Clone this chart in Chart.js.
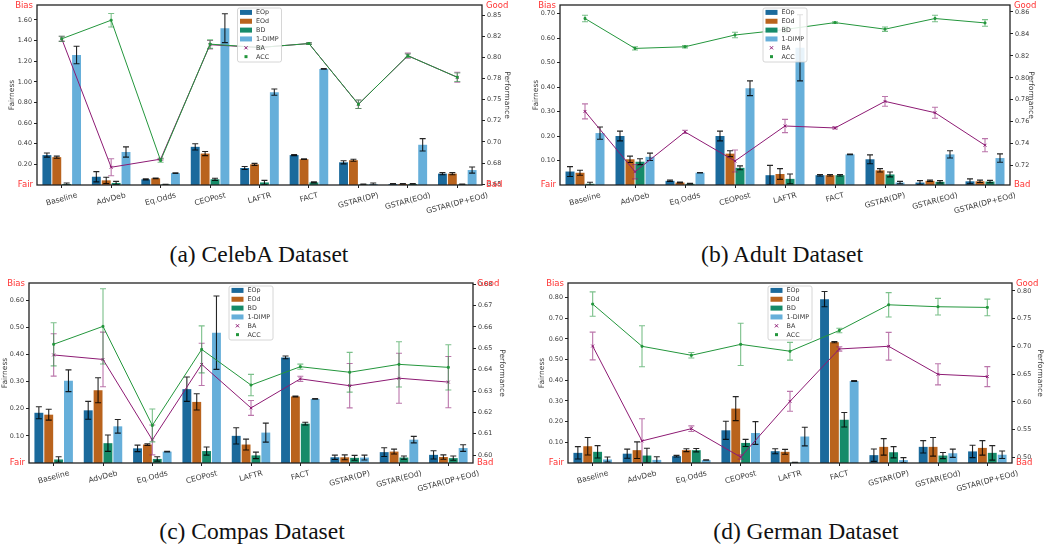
<!DOCTYPE html>
<html>
<head>
<meta charset="utf-8">
<script src="https://cdn.jsdelivr.net/npm/chart.js@4.4.1/dist/chart.umd.min.js"></script>
<style>
body { margin: 0; background: #fff; width: 1044px; height: 548px; position: relative; overflow: hidden; }
.panel { position: absolute; }
.panel canvas { display: block; }
.cap { position: absolute; font-family: "Liberation Serif", "DejaVu Serif", serif; font-size: 23.5px; line-height: 24px; color: #111; transform: translateX(-50%); white-space: nowrap; }
</style>
</head>
<body>
<div class="panel" style="left:0;top:0"><canvas id="celeba" width="520" height="240"></canvas></div>
<div class="panel" style="left:520px;top:0"><canvas id="adult" width="524" height="240"></canvas></div>
<div class="panel" style="left:0;top:278px"><canvas id="compas" width="520" height="240"></canvas></div>
<div class="panel" style="left:520px;top:278px"><canvas id="german" width="524" height="240"></canvas></div>
<div class="cap" style="left:259px;top:242px">(a) CelebA Dataset</div>
<div class="cap" style="left:782px;top:242px">(b) Adult Dataset</div>
<div class="cap" style="left:252px;top:519px">(c) Compas Dataset</div>
<div class="cap" style="left:806px;top:519px">(d) German Dataset</div>
<script>
// --- DADOS ---
const methods = ['Baseline', 'AdvDeb', 'Eq.Odds', 'CEOPost', 'LAFTR', 'FACT', 'GSTAR(DP)', 'GSTAR(EOd)', 'GSTAR(DP+EOd)'];
const legendLabels = ['EOp', 'EOd', 'BD', '1-DIMP', 'BA', 'ACC'];

// CelebA
const celebaEOp = [0.29, 0.08, 0.055, 0.37, 0.165, 0.29, 0.22, 0.01, 0.11];
const celebaEOpErr = [0.02, 0.05, 0.005, 0.03, 0.015, 0.005, 0.015, 0.003, 0.01];
const celebaEOd = [0.27, 0.045, 0.065, 0.305, 0.20, 0.25, 0.24, 0.01, 0.11];
const celebaEOdErr = [0.01, 0.03, 0.003, 0.02, 0.01, 0.003, 0.01, 0.003, 0.01];
const celebaBD = [0.01, 0.02, 0.005, 0.055, 0.025, 0.025, 0.005, 0.01, 0.005];
const celebaBDErr = [0.01, 0.015, 0.002, 0.01, 0.02, 0.005, 0.005, 0.003, 0.003];
const celebaDIMP = [1.26, 0.32, 0.115, 1.52, 0.90, 1.125, 0.01, 0.39, 0.145];
const celebaDIMPErr = [0.085, 0.05, 0.003, 0.14, 0.03, 0.003, 0.01, 0.06, 0.03];
const celebaBA = [0.822, 0.670, 0.6796, 0.815, 0.8117, 0.8164, 0.7445, 0.802, 0.7765];
const celebaBAErr = [0.003, 0.01, 0.001, 0.005, 0.002, 0.001, 0.005, 0.003, 0.006];
const celebaACC = [0.822, 0.844, 0.678, 0.8157, 0.8117, 0.8164, 0.7445, 0.802, 0.7765];
const celebaACCErr = [0.003, 0.008, 0.002, 0.005, 0.002, 0.001, 0.005, 0.002, 0.005];
const celebaLeftTicks = [0.2, 0.4, 0.6, 0.8, 1.0, 1.2, 1.4, 1.6];
const celebaRightTicks = [0.65, 0.675, 0.7, 0.725, 0.75, 0.775, 0.8, 0.825, 0.85];

// Adult
const adultEOp = [0.055, 0.20, 0.017, 0.20, 0.04, 0.04, 0.105, 0.01, 0.015];
const adultEOpErr = [0.02, 0.02, 0.003, 0.02, 0.04, 0.003, 0.018, 0.008, 0.01];
const adultEOd = [0.05, 0.105, 0.01, 0.128, 0.045, 0.04, 0.06, 0.017, 0.015];
const adultEOdErr = [0.01, 0.013, 0.002, 0.012, 0.022, 0.003, 0.007, 0.003, 0.005];
const adultBD = [0.005, 0.095, 0.005, 0.07, 0.025, 0.04, 0.043, 0.013, 0.014];
const adultBDErr = [0.006, 0.012, 0.002, 0.008, 0.02, 0.003, 0.01, 0.005, 0.005];
const adultDIMP = [0.212, 0.115, 0.05, 0.395, 0.56, 0.125, 0.01, 0.125, 0.11];
const adultDIMPErr = [0.025, 0.015, 0.001, 0.03, 0.135, 0.001, 0.005, 0.015, 0.017];
const adultBA = [0.7695, 0.7146, 0.7508, 0.7243, 0.7562, 0.7544, 0.7786, 0.7683, 0.7387];
const adultBAErr = [0.0068, 0.0065, 0.0015, 0.01, 0.006, 0.001, 0.0045, 0.005, 0.006];
const adultACC = [0.854, 0.8268, 0.8283, 0.839, 0.844, 0.8503, 0.8443, 0.854, 0.850];
const adultACCErr = [0.003, 0.0015, 0.001, 0.0025, 0.003, 0.0008, 0.002, 0.003, 0.003];
const adultLeftTicks = [0.1, 0.2, 0.3, 0.4, 0.5, 0.6, 0.7];
const adultRightTicks = [0.72, 0.74, 0.76, 0.78, 0.80, 0.82, 0.84, 0.86];

// Compas
const compasEOp = [0.185, 0.194, 0.054, 0.272, 0.10, 0.389, 0.021, 0.04, 0.03];
const compasEOpErr = [0.022, 0.033, 0.012, 0.045, 0.03, 0.005, 0.008, 0.016, 0.015];
const compasEOd = [0.178, 0.268, 0.068, 0.225, 0.068, 0.245, 0.021, 0.042, 0.022];
const compasEOdErr = [0.02, 0.046, 0.003, 0.03, 0.02, 0.002, 0.009, 0.009, 0.008];
const compasBD = [0.013, 0.073, 0.015, 0.044, 0.028, 0.145, 0.019, 0.02, 0.018];
const compasBDErr = [0.01, 0.03, 0.008, 0.015, 0.012, 0.005, 0.009, 0.006, 0.008];
const compasDIMP = [0.303, 0.135, 0.042, 0.48, 0.112, 0.236, 0.02, 0.086, 0.055];
const compasDIMPErr = [0.04, 0.025, 0.001, 0.135, 0.035, 0.001, 0.009, 0.012, 0.012];
const compasBA = [0.6469, 0.6448, 0.6071, 0.6425, 0.6221, 0.6357, 0.6325, 0.636, 0.6342];
const compasBAErr = [0.0099, 0.0128, 0.007, 0.0099, 0.0035, 0.0012, 0.0104, 0.0117, 0.012];
const compasACC = [0.6519, 0.6603, 0.6139, 0.6495, 0.6328, 0.6414, 0.6388, 0.6425, 0.6411];
const compasACCErr = [0.0101, 0.0176, 0.0077, 0.011, 0.005, 0.0012, 0.0093, 0.0106, 0.0106];
const compasLeftTicks = [0.1, 0.2, 0.3, 0.4, 0.5, 0.6];
const compasRightTicks = [0.60, 0.61, 0.62, 0.63, 0.64, 0.65, 0.66, 0.67, 0.68];

// German
const germanEOp = [0.049, 0.045, 0.033, 0.158, 0.057, 0.792, 0.038, 0.078, 0.056];
const germanEOpErr = [0.03, 0.022, 0.004, 0.044, 0.012, 0.037, 0.03, 0.03, 0.03];
const germanEOd = [0.081, 0.062, 0.062, 0.263, 0.054, 0.584, 0.078, 0.078, 0.073];
const germanEOdErr = [0.042, 0.04, 0.007, 0.058, 0.012, 0.003, 0.04, 0.045, 0.035];
const germanBD = [0.054, 0.036, 0.062, 0.097, 0.002, 0.209, 0.052, 0.036, 0.049];
const germanBDErr = [0.03, 0.035, 0.008, 0.017, 0.001, 0.035, 0.027, 0.015, 0.035];
const germanDIMP = [0.017, 0.015, 0.014, 0.145, 0.128, 0.396, 0.014, 0.047, 0.04];
const germanDIMPErr = [0.012, 0.015, 0.001, 0.055, 0.045, 0.002, 0.012, 0.02, 0.018];
const germanBA = [0.7007, 0.5296, 0.5517, 0.5005, 0.601, 0.6954, 0.7002, 0.6497, 0.6455];
const germanBAErr = [0.025, 0.04, 0.005, 0.004, 0.018, 0.004, 0.025, 0.019, 0.018];
const germanACC = [0.7763, 0.7002, 0.684, 0.7037, 0.6913, 0.7287, 0.775, 0.7715, 0.7703];
const germanACCErr = [0.022, 0.037, 0.005, 0.038, 0.016, 0.004, 0.022, 0.015, 0.015];
const germanLeftTicks = [0.1, 0.2, 0.3, 0.4, 0.5, 0.6, 0.7, 0.8];
const germanRightTicks = [0.50, 0.55, 0.60, 0.65, 0.70, 0.75, 0.80];

// --- ESTILO ---
const FONT = 'DejaVu Sans';
const barColors = ['#1b6a9c', '#b9631d', '#168b69', '#66afda'];
const baColor = '#8d1a73';
const accColor = '#23963c';
const axisColor = '#222';
const tickTextColor = '#3a3a3a';
const redColor = '#ff3333';

// barras de erro, desenhadas logo depois de cada dataset
const errorBarsPlugin = {
    id: 'errorBars',
    afterDatasetDraw(chart, args) {
        const ds = chart.data.datasets[args.index];
        if (!ds.err) return;
        const scale = chart.scales[ds.yAxisID];
        const ctx = chart.ctx;
        const ca = chart.chartArea;
        ctx.save();
        ctx.beginPath();
        ctx.rect(ca.left, ca.top, ca.right - ca.left, ca.bottom - ca.top);
        ctx.clip();
        ctx.strokeStyle = ds.errColor;
        ctx.lineWidth = 1.1;
        const cap = 3;
        args.meta.data.forEach((el, i) => {
            const v = ds.data[i], e = ds.err[i];
            const x = el.x;
            const yTop = scale.getPixelForValue(v + e);
            const yBot = scale.getPixelForValue(v - e);
            ctx.beginPath();
            ctx.moveTo(x, yTop); ctx.lineTo(x, yBot);
            ctx.moveTo(x - cap, yTop); ctx.lineTo(x + cap, yTop);
            ctx.moveTo(x - cap, yBot); ctx.lineTo(x + cap, yBot);
            ctx.stroke();
        });
        ctx.restore();
    }
};

// moldura, rótulos vermelhos, rótulos do eixo x e legenda
const decorPlugin = {
    id: 'decor',
    afterDraw(chart) {
        const ctx = chart.ctx;
        const ca = chart.chartArea;
        ctx.save();
        ctx.strokeStyle = axisColor;
        ctx.lineWidth = 1.3;
        ctx.strokeRect(ca.left, ca.top, ca.right - ca.left, ca.bottom - ca.top);

        // Bias / Fair / Good / Bad
        ctx.fillStyle = redColor;
        ctx.font = `8.5px "${FONT}"`;
        ctx.textBaseline = 'middle';
        ctx.textAlign = 'right';
        ctx.fillText('Bias', ca.left - 4, ca.top + 1);
        ctx.fillText('Fair', ca.left - 4, ca.bottom);
        ctx.textAlign = 'left';
        ctx.fillText('Good', ca.right + 4, ca.top + 1);
        ctx.fillText('Bad', ca.right + 4, ca.bottom);

        // rótulos do eixo x, rodados 15 graus e centrados no tick
        const xs = chart.scales.x;
        const ang = 15 * Math.PI / 180;
        ctx.font = `7.6px "${FONT}"`;
        ctx.fillStyle = tickTextColor;
        ctx.textAlign = 'center';
        ctx.textBaseline = 'middle';
        chart.data.labels.forEach((lab, i) => {
            const x = xs.getPixelForTick(i);
            const w = ctx.measureText(lab).width;
            const h = 7.6 * 1.15;
            const half = (w * Math.sin(ang) + h * Math.cos(ang)) / 2;
            ctx.save();
            ctx.translate(x, ca.bottom + 6 + half);
            ctx.rotate(-ang);
            ctx.fillText(lab, 0, 0);
            ctx.restore();
        });

        // legenda
        const lw = 44, lh = 54;
        const lx = (ca.left + ca.right) / 2 - lw / 2;
        const ly = ca.top + 3;
        ctx.fillStyle = 'rgba(255,255,255,0.85)';
        ctx.strokeStyle = '#cccccc';
        ctx.lineWidth = 0.8;
        ctx.beginPath();
        ctx.roundRect(lx, ly, lw, lh, 2);
        ctx.fill();
        ctx.stroke();
        ctx.font = `6.4px "${FONT}"`;
        ctx.textAlign = 'left';
        ctx.textBaseline = 'middle';
        legendLabels.forEach((lab, i) => {
            const yc = ly + 4.4 + i * 8.85;
            const mx = lx + 8.5;
            if (i < 4) {
                ctx.fillStyle = barColors[i];
                ctx.fillRect(lx + 2.5, yc - 2.5, 12, 5);
            } else if (lab === 'BA') {
                ctx.strokeStyle = baColor;
                ctx.lineWidth = 1;
                ctx.beginPath();
                ctx.moveTo(mx - 1.6, yc - 1.6); ctx.lineTo(mx + 1.6, yc + 1.6);
                ctx.moveTo(mx + 1.6, yc - 1.6); ctx.lineTo(mx - 1.6, yc + 1.6);
                ctx.stroke();
            } else {
                ctx.fillStyle = accColor;
                ctx.fillRect(mx - 1.5, yc - 1.5, 3, 3);
            }
            ctx.fillStyle = tickTextColor;
            ctx.fillText(lab, lx + 18.5, yc + 0.3);
        });
        ctx.restore();
    }
};

function fixedTicks(values) {
    return scale => { scale.ticks = values.map(v => ({ value: v })); };
}

function makeChart(id, p) {
    const barSet = (label, data, err, color) => ({
        label, data, err, backgroundColor: color, yAxisID: 'y', order: 1,
        errColor: 'rgba(0,0,0,0.85)'
    });
    const lineSet = (label, data, err, color, style, radius, errColor) => ({
        type: 'line', label, data, err, yAxisID: 'y1', order: 0,
        borderColor: color, backgroundColor: color, borderWidth: 1,
        pointStyle: style, pointRadius: radius, pointBorderWidth: 1,
        errColor
    });
    return new Chart(document.getElementById(id), {
        type: 'bar',
        data: {
            labels: methods,
            datasets: [
                lineSet('ACC', p.acc, p.accErr, accColor, 'rect', 1.3, 'rgba(35,150,60,0.6)'),
                lineSet('BA', p.ba, p.baErr, baColor, 'crossRot', 2, 'rgba(141,26,115,0.6)'),
                barSet('EOp', p.eop, p.eopErr, barColors[0]),
                barSet('EOd', p.eod, p.eodErr, barColors[1]),
                barSet('BD', p.bd, p.bdErr, barColors[2]),
                barSet('1-DIMP', p.dimp, p.dimpErr, barColors[3])
            ]
        },
        options: {
            responsive: false,
            animation: false,
            devicePixelRatio: 1,
            layout: { padding: { top: 4 } },
            datasets: { bar: { categoryPercentage: 0.8, barPercentage: 0.9 } },
            plugins: { legend: { display: false }, tooltip: { enabled: false } },
            scales: {
                x: {
                    grid: { drawOnChartArea: false, offset: false, tickLength: 3, color: axisColor },
                    border: { display: false },
                    ticks: { display: false },
                    afterFit: s => { s.height = 55; s.paddingLeft = 0; s.paddingRight = 0; }
                },
                y: {
                    position: 'left', min: 0, max: p.yMax,
                    grid: { drawOnChartArea: false, tickLength: 3, color: axisColor },
                    border: { display: false },
                    ticks: { font: { family: FONT, size: 6.4 }, color: tickTextColor, padding: 2, callback: v => v.toFixed(2) },
                    afterBuildTicks: fixedTicks(p.leftTicks),
                    title: { display: true, text: 'Fairness', color: tickTextColor, font: { family: FONT, size: 7.5 }, padding: { top: p.leftTitlePad, bottom: 0 } },
                    afterFit: s => { s.width = p.leftW; s.paddingTop = 0; s.paddingBottom = 0; }
                },
                y1: {
                    position: 'right', min: p.y1Min, max: p.y1Max,
                    grid: { drawOnChartArea: false, tickLength: 3, color: axisColor },
                    border: { display: false },
                    ticks: { font: { family: FONT, size: 6.4 }, color: tickTextColor, padding: 2, callback: v => v.toFixed(2) },
                    afterBuildTicks: fixedTicks(p.rightTicks),
                    title: { display: true, text: 'Performance', color: tickTextColor, font: { family: FONT, size: 7.5 }, padding: { top: p.rightTitlePad, bottom: 0 } },
                    afterFit: s => { s.width = p.rightW; s.paddingTop = 0; s.paddingBottom = 0; }
                }
            }
        },
        plugins: [errorBarsPlugin, decorPlugin]
    });
}

makeChart('celeba', {
    eop: celebaEOp, eopErr: celebaEOpErr, eod: celebaEOd, eodErr: celebaEOdErr,
    bd: celebaBD, bdErr: celebaBDErr, dimp: celebaDIMP, dimpErr: celebaDIMPErr,
    ba: celebaBA, baErr: celebaBAErr, acc: celebaACC, accErr: celebaACCErr,
    leftTicks: celebaLeftTicks, rightTicks: celebaRightTicks,
    yMax: 1.745, y1Min: 0.649, y1Max: 0.862,
    leftW: 37, rightW: 38, leftTitlePad: 7.5, rightTitlePad: 8.5
});
makeChart('adult', {
    eop: adultEOp, eopErr: adultEOpErr, eod: adultEOd, eodErr: adultEOdErr,
    bd: adultBD, bdErr: adultBDErr, dimp: adultDIMP, dimpErr: adultDIMPErr,
    ba: adultBA, baErr: adultBAErr, acc: adultACC, accErr: adultACCErr,
    leftTicks: adultLeftTicks, rightTicks: adultRightTicks,
    yMax: 0.735, y1Min: 0.7025, y1Max: 0.8663,
    leftW: 40, rightW: 34, leftTitlePad: 11.5, rightTitlePad: 8.8
});
makeChart('compas', {
    eop: compasEOp, eopErr: compasEOpErr, eod: compasEOd, eodErr: compasEOdErr,
    bd: compasBD, bdErr: compasBDErr, dimp: compasDIMP, dimpErr: compasDIMPErr,
    ba: compasBA, baErr: compasBAErr, acc: compasACC, accErr: compasACCErr,
    leftTicks: compasLeftTicks, rightTicks: compasRightTicks,
    yMax: 0.663, y1Min: 0.5963, y1Max: 0.6806,
    leftW: 29, rightW: 47, leftTitlePad: 1, rightTitlePad: 13.8
});
makeChart('german', {
    eop: germanEOp, eopErr: germanEOpErr, eod: germanEOd, eodErr: germanEOdErr,
    bd: germanBD, bdErr: germanBDErr, dimp: germanDIMP, dimpErr: germanDIMPErr,
    ba: germanBA, baErr: germanBAErr, acc: germanACC, accErr: germanACCErr,
    leftTicks: germanLeftTicks, rightTicks: germanRightTicks,
    yMax: 0.87, y1Min: 0.4898, y1Max: 0.8143,
    leftW: 48, rightW: 32, leftTitlePad: 18, rightTitlePad: 0
});
</script>
</body>
</html>
